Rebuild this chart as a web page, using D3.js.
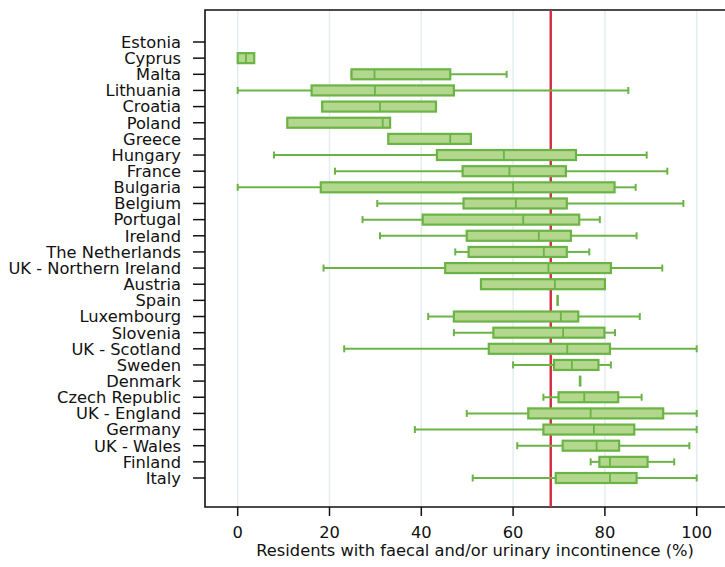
<!DOCTYPE html>
<html><head><meta charset="utf-8">
<script src="https://cdn.jsdelivr.net/npm/d3@7"></script>
<style>body{margin:0;background:#fff}svg{display:block}</style>
</head><body><svg id="c" width="725" height="567"></svg>
<script>
const categories = ["Estonia","Cyprus","Malta","Lithuania","Croatia","Poland","Greece","Hungary","France","Bulgaria","Belgium","Portugal","Ireland","The Netherlands","UK - Northern Ireland","Austria","Spain","Luxembourg","Slovenia","UK - Scotland","Sweden","Denmark","Czech Republic","UK - England","Germany","UK - Wales","Finland","Italy"];
const whiskerLow  = [null,null,24.8,0,null,null,null,7.9,21.2,0,30.4,27.2,31.0,47.4,18.7,null,null,41.5,47.1,23.2,60.0,null,66.6,49.9,38.6,60.9,76.9,51.2];
const q1          = [null,0,24.8,16.1,18.4,10.8,32.8,43.4,49.0,18.1,49.2,40.3,49.9,50.3,45.2,53.0,null,47.1,55.7,54.7,68.9,null,69.9,63.3,66.6,70.8,78.8,69.3];
const medians     = [null,1.8,29.8,29.9,31.0,31.6,46.3,58.0,59.2,60.0,60.6,62.2,65.6,66.7,67.7,69.1,69.7,70.4,70.9,71.8,72.8,74.6,75.5,76.9,77.6,78.2,81.1,81.1];
const q3          = [null,3.6,46.3,47.1,43.2,33.2,50.8,73.7,71.5,82.1,71.7,74.4,72.6,71.7,81.3,80.0,null,74.2,79.9,81.1,78.6,null,82.9,92.7,86.4,83.1,89.3,86.9];
const whiskerHigh = [null,null,58.6,85.1,null,null,null,89.1,93.6,86.7,97.1,78.9,86.9,76.6,92.5,null,null,87.6,82.2,100,81.3,null,88.0,100,100,98.4,95.1,100];
const xTicks = [0,20,40,60,80,100];
const referenceValue = 68.2;
const xLabel = "Residents with faecal and/or urinary incontinence (%)";

const svg = d3.select("#c");
const font = "'DejaVu Sans', sans-serif";
const fs = 16.3;
const pL = 205, pR = 725, pT = 10, pB = 507;
const x = d3.scaleLinear().domain([0,100]).range([237.7,696.7]);
const y = d3.scalePoint().domain(categories).range([42,478]);
const stroke = "#6ab446", fill = "#b3d78c";

// gridlines
svg.append("g").selectAll("line").data(xTicks).join("line")
  .attr("x1",d=>x(d)).attr("x2",d=>x(d)).attr("y1",pT).attr("y2",pB)
  .attr("stroke","#e4edf2").attr("stroke-width",1.5);

// frame
svg.append("path").attr("d",`M${pR},${pT}H${pL}V${pB}H${pR}`)
  .attr("fill","none").attr("stroke","#111").attr("stroke-width",1.6);

// reference line
svg.append("line").attr("x1",x(referenceValue)).attr("x2",x(referenceValue))
  .attr("y1",pT).attr("y2",pB).attr("stroke","#d42a3c").attr("stroke-width",2.4);

const rows = categories.map((c,i)=>({c,lo:whiskerLow[i],q1:q1[i],med:medians[i],q3:q3[i],hi:whiskerHigh[i]}));
const g = svg.append("g");
const bh = 10, ch = 7;
rows.forEach(r=>{
  const cy = y(r.c);
  if (r.lo!==null && r.q1!==null) {
    g.append("line").attr("x1",x(r.lo)).attr("x2",x(r.q1)).attr("y1",cy).attr("y2",cy).attr("stroke",stroke).attr("stroke-width",2);
    g.append("line").attr("x1",x(r.lo)).attr("x2",x(r.lo)).attr("y1",cy-ch/2).attr("y2",cy+ch/2).attr("stroke",stroke).attr("stroke-width",2);
  }
  if (r.hi!==null && r.q3!==null) {
    g.append("line").attr("x1",x(r.q3)).attr("x2",x(r.hi)).attr("y1",cy).attr("y2",cy).attr("stroke",stroke).attr("stroke-width",2);
    g.append("line").attr("x1",x(r.hi)).attr("x2",x(r.hi)).attr("y1",cy-ch/2).attr("y2",cy+ch/2).attr("stroke",stroke).attr("stroke-width",2);
  }
  if (r.q1!==null && r.q3!==null) {
    g.append("rect").attr("x",x(r.q1)).attr("y",cy-bh/2).attr("width",x(r.q3)-x(r.q1)).attr("height",bh)
      .attr("fill",fill).attr("stroke",stroke).attr("stroke-width",2.2);
  }
  if (r.med!==null) {
    g.append("line").attr("x1",x(r.med)).attr("x2",x(r.med)).attr("y1",cy-bh/2-0.5).attr("y2",cy+bh/2+0.5)
      .attr("stroke",stroke).attr("stroke-width",r.q1===null?2.6:1.8);
  }
});

// y axis labels + ticks
const ya = svg.append("g");
ya.selectAll("line").data(categories).join("line")
  .attr("x1",193).attr("x2",pL).attr("y1",d=>y(d)).attr("y2",d=>y(d)).attr("stroke","#111").attr("stroke-width",1.5);
ya.selectAll("text").data(categories).join("text")
  .attr("x",181).attr("y",d=>y(d)).attr("dy","0.36em").attr("text-anchor","end")
  .attr("font-family",font).attr("font-size",fs).attr("fill","#111").text(d=>d);

// x axis ticks + labels
const xa = svg.append("g");
xa.selectAll("line").data(xTicks).join("line")
  .attr("x1",d=>x(d)).attr("x2",d=>x(d)).attr("y1",pB).attr("y2",pB+9).attr("stroke","#111").attr("stroke-width",1.5);
xa.selectAll("text").data(xTicks).join("text")
  .attr("x",d=>x(d)).attr("y",538).attr("text-anchor","middle")
  .attr("font-family",font).attr("font-size",fs).attr("fill","#111").text(d=>d);
svg.append("text").attr("x",475).attr("y",556).attr("text-anchor","middle")
  .attr("font-family",font).attr("font-size",fs).attr("fill","#111").text(xLabel);
</script></body></html>
